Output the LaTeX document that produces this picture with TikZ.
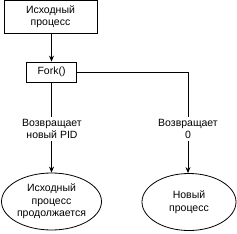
\documentclass[tikz,border=0pt]{standalone}
\usepackage{fontspec}
\newfontfamily\arialf{Liberation Sans}
\usetikzlibrary{shapes.geometric,arrows.meta}
\begin{document}
\begin{tikzpicture}[x=1pt,y=-1pt,
  txt/.style={font=\arialf\fontsize{10.5}{12.5}\selectfont, align=center},
  boxnode/.style={txt, draw, line width=0.8pt, inner sep=0pt},
  ellnode/.style={txt, draw, ellipse, line width=0.8pt, inner sep=0pt},
  lblnode/.style={txt, inner sep=2pt},
  conn/.style={line width=0.8pt},
  arr/.style={conn, -{Stealth[length=6pt,width=5pt]}}]
\useasboundingbox (0,0) rectangle (237,233);
\node[boxnode, minimum width=93pt, minimum height=33pt] (a) at (50.5,16.8) {Исходный\\процесс};
\node[boxnode, minimum width=50pt, minimum height=20pt] (f) at (51.5,72) {Fork()};
\node[lblnode] (l1) at (52,129) {Возвращает\\новый PID};
\node[lblnode] (l2) at (188,129) {Возвращает\\0};
\node[ellnode, minimum width=100pt, minimum height=57pt] (e1) at (51.5,201.5) {Исходный\\процесс\\продолжается};
\node[ellnode, minimum width=94pt, minimum height=57pt] (e2) at (189,202) {Новый\\процесс};
\draw[arr] (a.south -| f.north) -- (f.north);
\draw[conn] (f.south) -- (l1.north -| f.south);
\draw[arr] (l1.south -| f.south) -- (e1.north -| f.south);
\draw[conn] (f.east) -| (l2.north);
\draw[arr] (l2.south) -- (e2.north -| l2.south);
\end{tikzpicture}
\end{document}
